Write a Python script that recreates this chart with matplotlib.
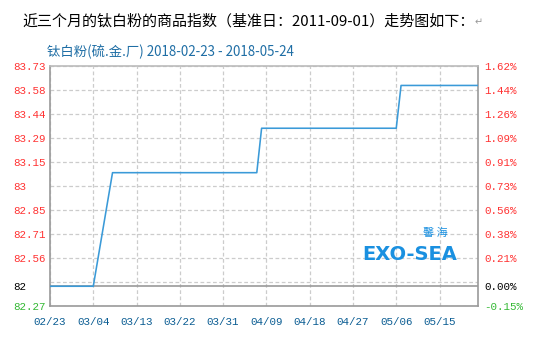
import matplotlib
matplotlib.use('Agg')
import matplotlib.pyplot as plt
import numpy as np
import pandas as pd

plt.rcParams['font.family'] = ['Noto Sans CJK SC', 'DejaVu Sans']

# ---------------- data ----------------
title = "近三个月的钛白粉的商品指数（基准日：2011-09-01）走势图如下："
subtitle = "钛白粉(硫.金.厂) 2018-02-23 - 2018-05-24"

dates = ["2018-02-23", "2018-03-04", "2018-03-08", "2018-04-07",
         "2018-04-08", "2018-05-06", "2018-05-07", "2018-05-23"]
values = [82.39, 82.39, 83.08, 83.08, 83.35, 83.35, 83.61, 83.61]

y_min, y_max = 82.27, 83.73
left_labels = ["83.73", "83.58", "83.44", "83.29", "83.15", "83",
               "82.85", "82.71", "82.56", "", "82.27"]
right_labels = ["1.62%", "1.44%", "1.26%", "1.09%", "0.91%", "0.73%",
                "0.56%", "0.38%", "0.21%", "", "-0.15%"]
base_value = 82.39
base_left = "82"
base_right = "0.00%"

x_labels = ["02/23", "03/04", "03/13", "03/22", "03/31",
            "04/09", "04/18", "04/27", "05/06", "05/15"]
x_start, x_end = "2018-02-23", "2018-05-23"

# ---------------- styles ----------------
RED = '#ff3333'
GREEN = '#33b833'
LINE = '#3a9ad8'
XCOL = '#0b5d93'
GRID = '#cccccc'
SPINE = '#9a9a9a'
MONO = 'Liberation Mono'

W, H = 554, 342
fig = plt.figure(figsize=(W / 100, H / 100), dpi=100)
ax = fig.add_axes([50 / W, 36 / H, 428 / W, 240.3 / H])

xd = pd.to_datetime(dates)
ax.plot(xd, values, color=LINE, lw=1.15, zorder=3)
ax.axhline(base_value, color=SPINE, lw=1.2, zorder=2)

ax.set_xlim(pd.Timestamp(x_start), pd.Timestamp(x_end))
ax.set_ylim(y_min, y_max)

yt = np.linspace(y_max, y_min, len(left_labels))
ax.set_yticks(yt, left_labels)
ax.set_yticks([base_value], [base_left], minor=True)

xt = pd.to_datetime(["2018/" + s for s in x_labels])
ax.set_xticks(xt, x_labels)

ax.grid(True, which='major', ls=(0, (3, 2)), color=GRID, lw=0.9)
ax.grid(False, which='minor')

for s in ax.spines.values():
    s.set_color(SPINE)
    s.set_linewidth(1.2)
ax.spines['top'].set_color('#bbbbbb')

ax.tick_params(axis='y', which='both', length=0, pad=26.6, labelsize=7.8)
ax.tick_params(axis='x', length=0, pad=8, labelsize=7.8, labelcolor=XCOL)
for lab in ax.get_yticklabels() + ax.get_yticklabels(minor=True):
    lab.set_ha('left')
    lab.set_family(MONO)
for i, lab in enumerate(ax.get_yticklabels()):
    lab.set_color(GREEN if i == len(left_labels) - 1 else RED)
for lab in ax.get_yticklabels(minor=True):
    lab.set_color('black')
for lab in ax.get_xticklabels():
    lab.set_family(MONO)

ax2 = ax.twinx()
ax2.set_ylim(y_min, y_max)
ax2.set_yticks(yt, right_labels)
ax2.set_yticks([base_value], [base_right], minor=True)
ax2.tick_params(axis='y', which='both', length=0, pad=4.3, labelsize=7.8)
for s in ax2.spines.values():
    s.set_visible(False)
for i, lab in enumerate(ax2.get_yticklabels()):
    lab.set_family(MONO)
    lab.set_color(GREEN if i == len(right_labels) - 1 else RED)
for lab in ax2.get_yticklabels(minor=True):
    lab.set_family(MONO)
    lab.set_color('black')

# watermark logo
fig.text(362 / W, 1 - 254 / H, "EXO-SEA", fontsize=14, fontweight='bold',
         color='#1a90e0', ha='left', va='center', family='DejaVu Sans')
fig.text(435 / W, 1 - 233 / H, "馨 海", fontsize=8, color='#1a90e0',
         ha='center', va='center')

# titles
fig.text(22 / W, 1 - 21 / H, title, fontsize=10.8, color='black',
         ha='left', va='center')
fig.text(475 / W, 1 - 22 / H, "↵", fontsize=7, color='#999999',
         ha='left', va='center', family='DejaVu Sans')
fig.text(47 / W, 1 - 51.5 / H, subtitle, fontsize=9.6, color='#1f6ea5',
         ha='left', va='center')

fig.savefig('out.png', dpi=100)
